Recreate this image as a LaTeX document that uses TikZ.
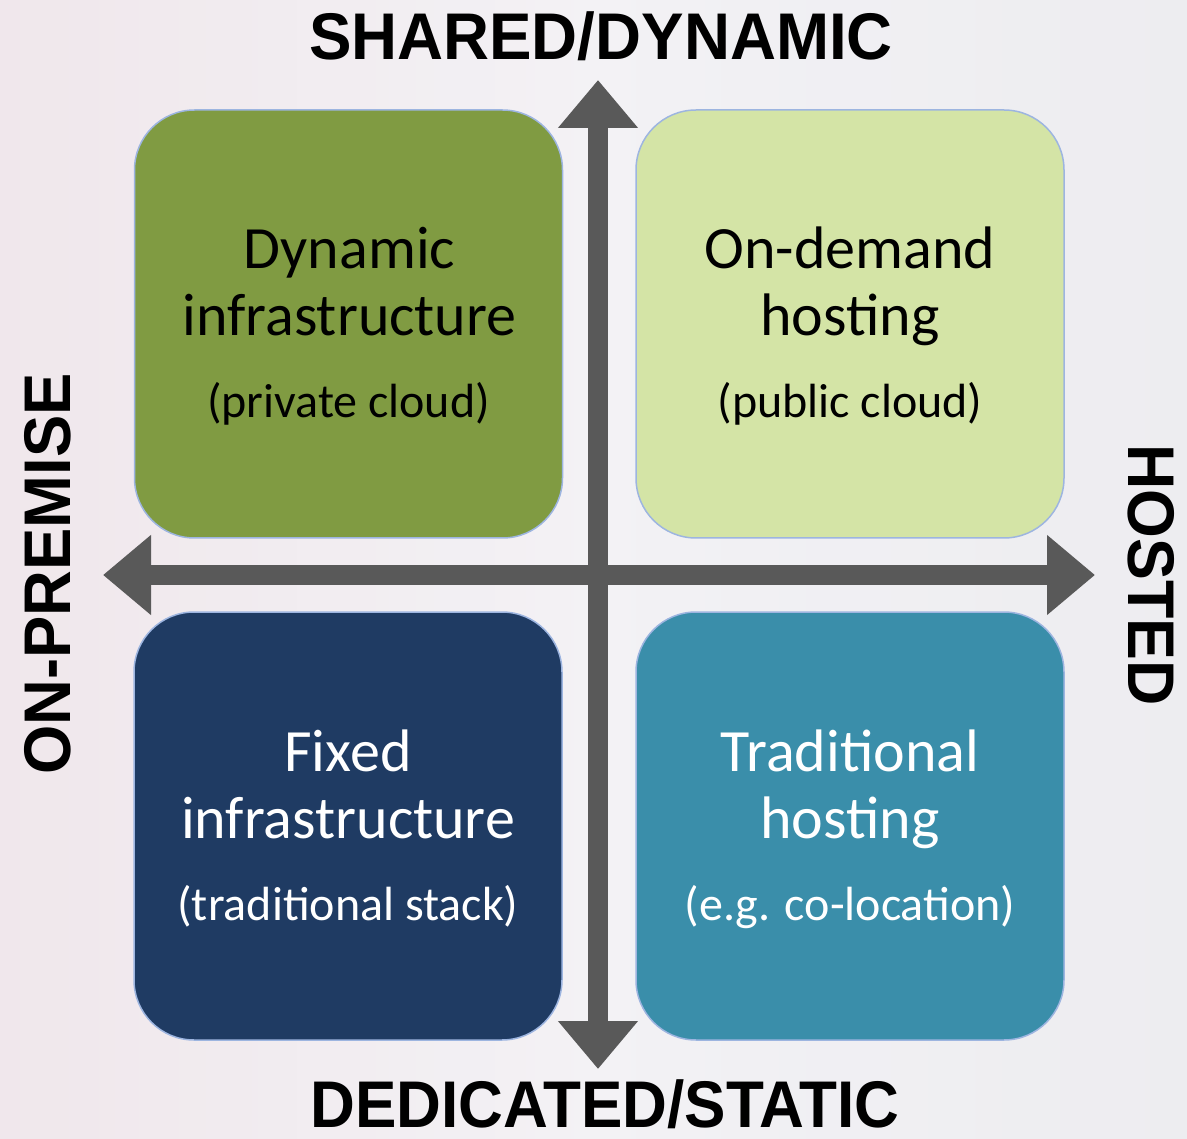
\documentclass[tikz,border=0pt]{standalone}
\usepackage{fontspec}
\setmainfont{Carlito}
\newfontfamily\axisfont{Liberation Sans}
\usetikzlibrary{arrows.meta}
\definecolor{bgbase}{HTML}{ECEBF1}
\definecolor{bgpink}{HTML}{F3E6EA}
\definecolor{bgwhite}{HTML}{F6F5F7}
\definecolor{bggray}{HTML}{EEEEF0}
\definecolor{tlcol}{HTML}{809B42}
\definecolor{trcol}{HTML}{D4E4A6}
\definecolor{blcol}{HTML}{1F3B63}
\definecolor{brcol}{HTML}{3A8EAA}
\definecolor{edgecol}{HTML}{9DB5E0}
\definecolor{arrowcol}{HTML}{595959}
\tikzset{
  quadbox/.style={draw=edgecol, line width=1.5pt, rounded corners=60pt,
    minimum width=428pt, minimum height=428pt, inner sep=0pt},
  bigline/.style={font=\fontsize{60}{60}\selectfont, anchor=base, inner sep=0pt},
  smallline/.style={font=\fontsize{48}{48}\selectfont, anchor=base, inner sep=0pt},
  axislabel/.style={font=\axisfont\bfseries\fontsize{66}{66}\selectfont, anchor=base, inner sep=0pt},
  axisarrow/.style={draw=arrowcol, line width=20pt,
    {Triangle[length=48pt,width=77pt]}-{Triangle[length=48pt,width=77pt]}}
}
\begin{document}
\begin{tikzpicture}[x=1pt,y=-1pt]
\useasboundingbox (0,0) rectangle (1187,1139);
% background
\fill[bgbase] (0,0) rectangle (1187,1139);
\shade[left color=bgpink, right color=bggray, middle color=bgwhite, opacity=0.7] (0,0) rectangle (1187,1139);

% quadrant boxes
\node[quadbox, fill=tlcol] (tl) at (348.5,324) {};
\node[quadbox, fill=trcol] (tr) at (850,324) {};
\node[quadbox, fill=blcol] (bl) at (348,826) {};
\node[quadbox, fill=brcol] (br) at (850,826) {};

% axis end points
\coordinate (up) at (598,80);
\coordinate (down) at (598,1069);
\coordinate (left) at (103,575);
\coordinate (right) at (1095,575);
\draw[axisarrow] (up) -- (down);
\draw[axisarrow] (left) -- (right);

% box texts
\node[bigline, text=black] (tl1) at (349.5,269) {Dynamic};
\node[bigline, text=black] (tl2) at (349.5,336) {infrastructure};
\node[smallline, text=black] (tl3) at (348.5,418) {(private cloud)};

\node[bigline, text=black] (tr1) at (850,269) {On-demand};
\node[bigline, text=black] (tr2) at (850,336) {hosting};
\node[smallline, text=black] (tr3) at (850,418) {(public cloud)};

\node[bigline, text=white] (bl1) at (348,771) {Fixed};
\node[bigline, text=white] (bl2) at (348,838) {infrastructure};
\node[smallline, text=white] (bl3) at (348,920) {(traditional stack)};

\node[bigline, text=white] (br1) at (850,771) {Traditional};
\node[bigline, text=white] (br2) at (850,838) {hosting};
\node[smallline, text=white] (br3) at (850,920) {(e.g. co-location)};

% axis labels
\node[axislabel] (shared) at (601,60) {\scalebox{0.965}[1]{SHARED/DYNAMIC}};
\node[axislabel, text depth=0pt] (dedicated) at (605,1127) {\scalebox{0.94}[1]{DEDICATED/STATIC}};
\node[axislabel, rotate=90] (onprem) at (70,574) {\scalebox{0.96}[1]{ON-PREMISE}};
\node[axislabel, rotate=-90] (hosted) at (1128,575) {\scalebox{0.95}[1]{HOSTED}};
\end{tikzpicture}
\end{document}
